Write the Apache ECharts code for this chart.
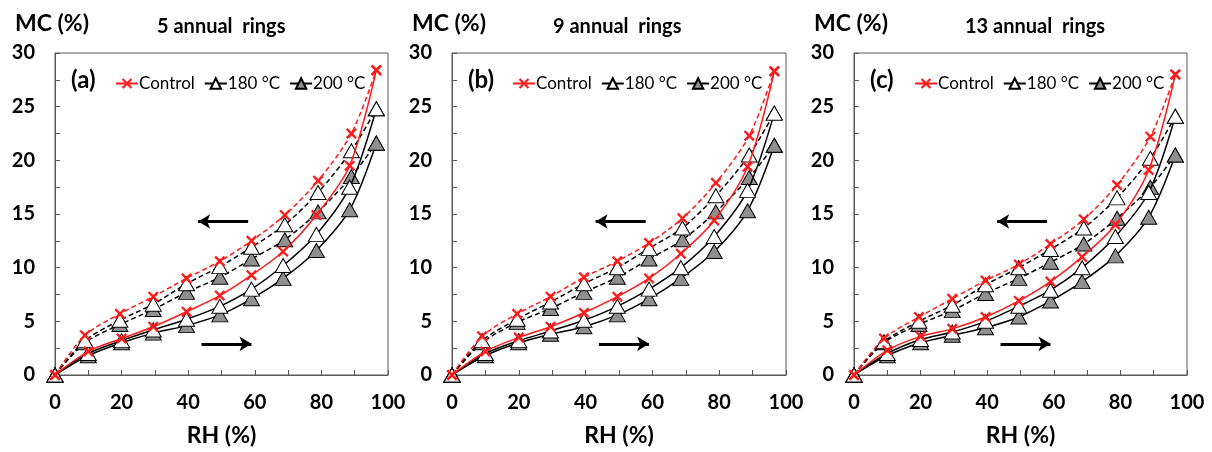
<!DOCTYPE html>
<html>
<head>
<meta charset="utf-8">
<script src="https://cdn.jsdelivr.net/npm/echarts@6/dist/echarts.min.js"></script>
<style>
  html, body { margin: 0; padding: 0; background: #fff; }
  #chart { width: 1212px; height: 452px; }
</style>
</head>
<body>
<div id="chart"></div>
<script>
// RH (%) steps, adsorption (up) and desorption (down)
const rhAds = [0, 10, 20, 29.5, 39.5, 49.5, 59, 68.5, 78.5, 88.5, 96.5];
const rhDes = [0, 9, 19.5, 29.5, 39.5, 49.5, 59, 69, 79, 89, 96.5];

// MC (%) - 5 annual rings
const ctrlAdsA = [0, 2.2, 3.4, 4.5, 5.9, 7.4, 9.3, 11.5, 14.9, 19.5, 28.4];
const ctrlDesA = [0, 3.7, 5.7, 7.3, 9.0, 10.6, 12.5, 14.9, 18.1, 22.5, 28.4];
const t180AdsA = [0, 2.0, 3.2, 4.2, 5.2, 6.4, 8.0, 10.2, 13.1, 17.5, 24.8];
const t180DesA = [0, 3.2, 5.1, 6.6, 8.5, 10.1, 11.9, 14.0, 17.0, 20.9, 24.8];
const t200AdsA = [0, 1.8, 3.0, 3.9, 4.6, 5.6, 7.1, 9.0, 11.6, 15.4, 21.6];
const t200DesA = [0, 3.0, 4.7, 6.1, 7.7, 9.1, 10.8, 12.6, 15.2, 18.5, 21.6];

// MC (%) - 9 annual rings
const ctrlAdsB = [0, 2.2, 3.5, 4.5, 5.8, 7.3, 9.0, 11.3, 14.4, 19.4, 28.3];
const ctrlDesB = [0, 3.6, 5.7, 7.3, 9.1, 10.6, 12.3, 14.6, 17.9, 22.3, 28.3];
const t180AdsB = [0, 2.0, 3.2, 4.1, 5.1, 6.4, 8.0, 10.0, 12.9, 17.2, 24.4];
const t180DesB = [0, 3.2, 5.2, 6.8, 8.5, 10.0, 11.8, 13.7, 16.7, 20.5, 24.4];
const t200AdsB = [0, 1.8, 3.0, 3.8, 4.5, 5.6, 7.1, 9.0, 11.5, 15.3, 21.4];
const t200DesB = [0, 3.0, 4.9, 6.2, 7.7, 9.1, 10.8, 12.6, 15.2, 18.4, 21.4];

// MC (%) - 13 annual rings
const ctrlAdsC = [0, 2.3, 3.6, 4.3, 5.4, 6.9, 8.7, 11.0, 14.0, 19.1, 28.0];
const ctrlDesC = [0, 3.4, 5.4, 7.1, 8.8, 10.3, 12.2, 14.5, 17.7, 22.2, 28.0];
const t180AdsC = [0, 2.0, 3.3, 4.0, 5.0, 6.4, 7.9, 10.0, 12.9, 17.0, 24.1];
const t180DesC = [0, 3.1, 5.0, 6.5, 8.4, 10.0, 11.7, 13.7, 16.5, 20.2, 24.1];
const t200AdsC = [0, 1.8, 3.0, 3.7, 4.4, 5.4, 6.9, 8.7, 11.1, 14.7, 20.5];
const t200DesC = [0, 3.0, 4.7, 6.0, 7.6, 9.0, 10.5, 12.2, 14.6, 17.5, 20.5];

const names = ["Control", "180 °C", "200 °C"];
const panelTitles = ["5 annual  rings", "9 annual  rings", "13 annual  rings"];
const panelTags = ["(a)", "(b)", "(c)"];

// arrows: [rhFrom, mcFrom, rhTo, mcTo]
const arrowDes = [58, 14.3, 43, 14.3];
const arrowAds = [44, 2.9, 59, 2.9];

const panels = [
  [ctrlAdsA, ctrlDesA, t180AdsA, t180DesA, t200AdsA, t200DesA],
  [ctrlAdsB, ctrlDesB, t180AdsB, t180DesB, t200AdsB, t200DesB],
  [ctrlAdsC, ctrlDesC, t180AdsC, t180DesC, t200AdsC, t200DesC],
];

const gridLeft = [55, 452, 854];
const gridWidth = [333, 334, 333];
const titleLeft = [157, 553, 965];

const FONT = "Lato";
const AXIS_COLOR = "#595959";
const crossPath = "path://M0,1.5L1.5,0L5,3.5L8.5,0L10,1.5L6.5,5L10,8.5L8.5,10L5,6.5L1.5,10L0,8.5L3.5,5Z";

const markerStyle = [
  { symbol: crossPath, symbolSize: 11, color: "#ff1a1a", fill: "#ff1a1a", border: 0 },
  { symbol: "triangle", symbolSize: [16, 14], color: "#000", fill: "#ffffff", border: 1 },
  { symbol: "triangle", symbolSize: [16, 14], color: "#000", fill: "#8f8f8f", border: 1 },
];

function pairs(xs, ys) {
  return xs.map((x, i) => [x, ys[i]]);
}

const grids = [], xAxes = [], yAxes = [], series = [], legends = [], titles = [];

for (let p = 0; p < 3; p++) {
  grids.push({ left: gridLeft[p], top: 53, width: gridWidth[p], height: 326,
    show: true, borderColor: AXIS_COLOR, borderWidth: 1, backgroundColor: "transparent" });

  xAxes.push({
    type: "value", gridIndex: p, min: 0, max: 100, interval: 10,
    name: "RH (%)", nameLocation: "middle", nameGap: 49,
    nameTextStyle: { fontFamily: FONT, fontWeight: "bold", fontSize: 23, color: "#000" },
    axisLine: { lineStyle: { color: AXIS_COLOR, width: 1 } },
    axisTick: { inside: true, length: 5, lineStyle: { color: AXIS_COLOR } },
    axisLabel: { margin: 18, fontFamily: FONT, fontWeight: "bold", fontSize: 20, color: "#000",
      formatter: (v) => (v % 20 === 0 ? String(v) : "") },
    splitLine: { show: false },
  });

  yAxes.push({
    type: "value", gridIndex: p, min: 0, max: 30, interval: 2.5,
    name: "MC (%)", nameLocation: "end", nameGap: 18,
    nameTextStyle: { fontFamily: FONT, fontWeight: "bold", fontSize: 23, color: "#000", padding: [0, 6, 0, 0] },
    axisLine: { lineStyle: { color: AXIS_COLOR, width: 1 } },
    axisTick: { inside: true, length: 5, lineStyle: { color: AXIS_COLOR } },
    axisLabel: { margin: 20, fontFamily: FONT, fontWeight: "bold", fontSize: 20, color: "#000",
      formatter: (v) => (v % 5 === 0 ? String(v) : "") },
    splitLine: { show: false },
  });

  titles.push({ text: panelTitles[p], left: titleLeft[p], top: 17, padding: 0,
    textStyle: { fontFamily: FONT, fontWeight: "bold", fontSize: 20, color: "#000" } });
  titles.push({ text: panelTags[p], left: gridLeft[p] + 16, top: 68, padding: 0,
    textStyle: { fontFamily: FONT, fontWeight: "bold", fontSize: 24, color: "#000" } });

  legends.push({
    data: names, left: gridLeft[p] + 60, top: 75, orient: "horizontal", padding: 0,
    itemWidth: 22, itemHeight: 13, itemGap: 9,
    textStyle: { fontFamily: FONT, fontSize: 17, color: "#000", padding: [0, 0, 0, -4] },
  });

  const data = panels[p];
  for (let k = 0; k < 3; k++) {
    const m = markerStyle[k];
    [0, 1].forEach((d) => {
      const s = {
        name: names[k], type: "line", xAxisIndex: p, yAxisIndex: p,
        data: pairs(d === 0 ? rhAds : rhDes, data[k * 2 + d]),
        smooth: 0.3, symbol: m.symbol, symbolSize: m.symbolSize,
        showAllSymbol: true,
        z: 10 - k,
        lineStyle: { color: m.color, width: 1.5, type: d === 0 ? "solid" : [5, 3] },
        itemStyle: { color: m.fill, borderColor: m.color, borderWidth: m.border },
        emphasis: { disabled: true },
      };
      if (k === 0 && d === 0) {
        s.markLine = {
          silent: true, symbol: ["none", "arrow"], symbolSize: [11, 12],
          label: { show: false },
          lineStyle: { color: "#000", width: 3, type: "solid" },
          data: [
            [{ coord: [arrowDes[0], arrowDes[1]] }, { coord: [arrowDes[2], arrowDes[3]] }],
            [{ coord: [arrowAds[0], arrowAds[1]] }, { coord: [arrowAds[2], arrowAds[3]] }],
          ],
        };
      }
      series.push(s);
    });
  }
}

const chart = echarts.init(document.getElementById("chart"));
chart.setOption({
  animation: false,
  title: titles,
  legend: legends,
  grid: grids,
  xAxis: xAxes,
  yAxis: yAxes,
  series: series,
});
</script>
</body>
</html>
